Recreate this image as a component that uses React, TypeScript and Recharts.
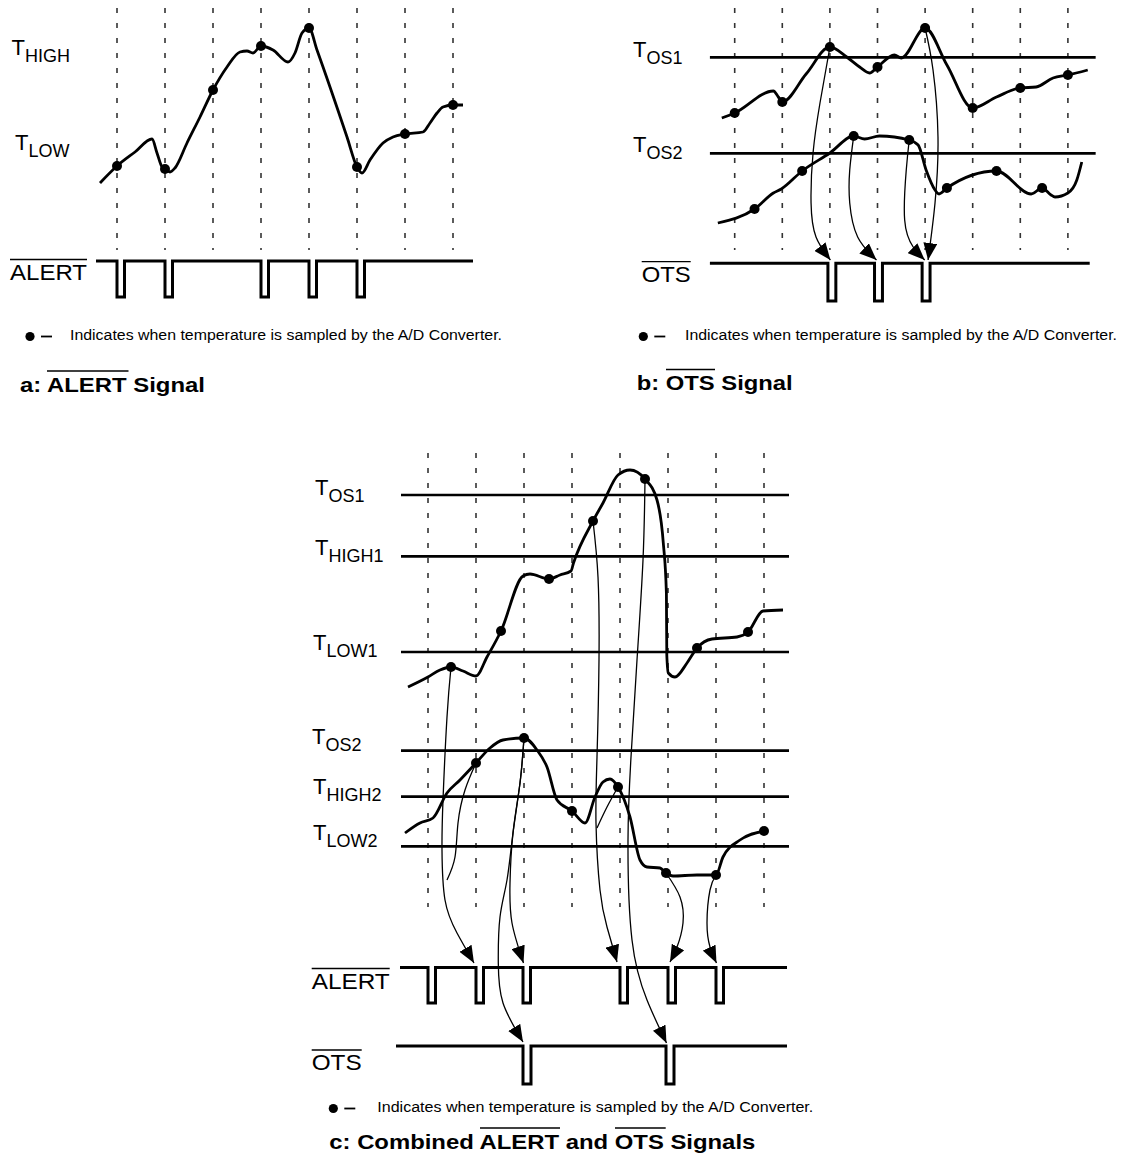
import React from "react";
import { ComposedChart, Line, Scatter, XAxis, YAxis, ReferenceLine } from "recharts";

// every point is [time, temperature, sampled?]; one A/D sample period = 48 time units
type Pt = number[];

const sampleTimes = [0, 48, 96, 144, 192, 240, 288, 336];

// ---------- a: ALERT signal ----------
const tempA: Pt[] = [
    [-17, 117], [0, 134, 1], [18, 148], [35, 161], [40, 147], [45, 133], [48, 131, 1], [53, 128], [58, 132],
    [70, 157], [83, 183], [96, 210, 1], [110, 233], [123, 248], [130, 249], [136, 247], [144, 254, 1],
    [156, 250], [171, 238], [178, 247], [185, 267], [192, 272, 1], [200, 250], [230, 163], [240, 133, 1],
    [245, 127], [253, 140], [266, 157], [276, 163], [288, 166, 1], [306, 168], [313, 177], [320, 187],
    [326, 193], [336, 195, 1], [346, 195],
];
const alertPulsesA = [0, 48, 144, 192, 240];
const alertLevelsA = [39, 3];
const alertSpanA = [-21, 356];

// ---------- b: OTS signal ----------
const tempB1: Pt[] = [
    [-13, 182], [0, 187, 1], [39, 209], [44, 203], [48, 198, 1], [72, 226], [96, 253, 1], [113, 243],
    [126, 233], [136, 227], [144, 233, 1], [161, 245], [168, 242], [192, 272, 1], [214, 235], [240, 192, 1],
    [264, 203], [288, 212, 1], [304, 213], [321, 222], [336, 225, 1], [356, 230],
];
const tempB2: Pt[] = [
    [-17, 77], [20, 91, 1], [39, 107], [47, 111], [68, 129, 1], [96, 147], [120, 164, 1], [131, 161],
    [146, 164], [176, 160, 1], [185, 155], [193, 130], [202, 110], [206, 106], [214, 112, 1], [264, 129, 1],
    [299, 106], [310, 112, 1], [319, 105], [323, 103], [336, 107], [345, 120], [350, 138],
];
const limitsB = [242.7, 146.7]; // TOS1, TOS2
const limitSpanB = [-25, 364];
const otsPulsesB = [94, 141, 189];
const otsLevelsB = [36.7, -1];
const otsSpanB = [-25, 358];
const arrowsB: Pt[][] = [
    [[96, 253], [86, 197], [79, 147], [77, 97], [82, 63], [96.5, 40]],
    [[120, 164], [116, 130], [116, 97], [124, 63], [143, 40]],
    [[176, 160], [173, 130], [171.4, 80], [180, 53], [191.6, 40]],
    [[192, 272], [200, 230], [205, 163], [202, 97], [195, 40]],
];

// ---------- c: combined ----------
const tempC1: Pt[] = [
    [-20, 413], [0, 423], [12, 430], [23, 433, 1], [35, 429], [48, 424], [59, 443], [73, 469, 1], [95, 524],
    [102, 526], [121, 521, 1], [132, 525], [143, 529], [145.5, 537], [165, 579, 1], [175, 597], [190, 625],
    [202, 630], [217, 621, 1], [229, 600], [235.3, 557], [238.4, 507], [238.8, 445], [240.3, 427], [247, 423],
    [259, 437], [269, 452, 1], [284, 461], [309, 463], [320, 468, 1], [335, 489], [355, 490],
];
const tempC2: Pt[] = [
    [-23, 267], [-8, 277], [5, 282], [19, 307], [32, 320], [48, 337, 1], [62, 352], [75, 360], [96, 362, 1],
    [109, 350], [119, 333], [129, 300], [144, 289, 1], [157, 277], [167, 303], [175, 318], [182, 321],
    [190, 313, 1], [202, 283], [212, 240], [219, 233], [232, 232], [238, 227, 1], [245, 224], [269, 225],
    [288, 225, 1], [295, 243], [312, 260], [336, 269, 1],
];
const limitsC = [605, 543.7, 448, 349.3, 303.3, 253.7]; // TOS1, THIGH1, TLOW1, TOS2, THIGH2, TLOW2
const limitSpanC = [-27, 361];
const alertPulsesC = [0, 48, 95, 192, 240, 288];
const alertLevelsC = [132.5, 97];
const alertSpanC = [-28, 359];
const otsPulsesC = [95, 238];
const otsLevelsC = [54, 16];
const otsSpanC = [-32, 359];
const arrowsC: Pt[][] = [
    [[23, 433], [19, 383], [15, 300], [14, 250], [17, 200], [29, 167], [46, 137]],
    [[96, 362], [92, 317], [85, 267], [82, 217], [84, 177], [95.5, 137]],
    [[96, 362], [92, 317], [85, 267], [79, 220], [72, 183], [70.3, 137], [75, 97], [95, 58]],
    [[165, 579], [170, 523], [171, 440], [169, 343], [168, 277], [172, 210], [179, 173], [189, 138]],
    [[217, 621], [215, 540], [209, 440], [203, 343], [200, 260], [204, 160], [219, 100], [238.5, 57]],
    [[238, 227], [252, 203], [255, 177], [249, 153], [242, 138]],
    [[288, 225], [282, 210], [279, 177], [282, 153], [288.5, 137]],
];
// thin lines that join another arrow (no head)
const feedersC: Pt[][] = [
    [[48, 337], [37, 310], [30, 277], [27, 243], [19, 220]],
    [[190, 313], [179, 293], [169, 272]],
];

const FONT = "'Liberation Sans', Arial, Helvetica, sans-serif";

const toPts = (arr: Pt[]) => arr.map(([x, y, s]) => ({ x, y, s: !!s }));

const signalPts = (pulses: number[], levels: number[], span: number[], w: number) => {
    const [hi, lo] = levels;
    const pts = [{ x: span[0], y: hi }];
    pulses.forEach(t => {
        pts.push({ x: t, y: hi }, { x: t, y: lo }, { x: t + w, y: lo }, { x: t + w, y: hi });
    });
    pts.push({ x: span[1], y: hi });
    return pts;
};

const dotShape = (p: any) => <circle cx={p.cx} cy={p.cy} r={5} fill="#000" />;

const dashed = (top: number, bottom: number, k: string) =>
    sampleTimes.map(t => (
        <ReferenceLine key={k + t} segment={[{ x: t, y: top }, { x: t, y: bottom }]}
            stroke="#333" strokeWidth={1.6} strokeDasharray="5 10" />
    ));

const limits = (ys: number[], span: number[], k: string) =>
    ys.map((y, i) => (
        <ReferenceLine key={k + i} segment={[{ x: span[0], y }, { x: span[1], y }]} stroke="#000" strokeWidth={2.7} />
    ));

const curve = (data: Pt[], k: string) => (
    <Line key={k} data={toPts(data)} dataKey="y" type="monotone" stroke="#000" strokeWidth={2.8}
        dot={false} activeDot={false} isAnimationActive={false} />
);

const samples = (data: Pt[], k: string) => (
    <Scatter key={k} data={toPts(data).filter(p => p.s)} dataKey="y" shape={dotShape} isAnimationActive={false} />
);

const arrow = (data: Pt[], k: string, head = true) => (
    <Line key={k} data={toPts(data)} dataKey="y" type="natural" stroke="#000" strokeWidth={1.3}
        dot={false} activeDot={false} isAnimationActive={false}
        markerEnd={head ? "url(#arrowHead)" : undefined} />
);

const digital = (pulses: number[], levels: number[], span: number[], w: number, k: string) => (
    <Line key={k} data={signalPts(pulses, levels, span, w)} dataKey="y" type="linear" stroke="#000"
        strokeWidth={3} strokeLinejoin="miter" dot={false} activeDot={false} isAnimationActive={false} />
);

const Panel = ({ left, top, width, height, xDomain, yDomain, children }: any) => (
    <div style={{ position: "absolute", left, top }}>
        <ComposedChart width={width} height={height} margin={{ top: 0, right: 0, bottom: 0, left: 0 }}>
            <XAxis type="number" dataKey="x" domain={xDomain} hide allowDataOverflow />
            <YAxis type="number" dataKey="y" domain={yDomain} hide allowDataOverflow />
            {children}
        </ComposedChart>
    </div>
);

const TLabel = ({ x, y, sub }: { x: number; y: number; sub: string }) => (
    <text x={x} y={y} fontSize={22}>
        T<tspan fontSize={18} dy={7}>{sub}</tspan>
    </text>
);

const BarLabel = ({ x, y, text, len }: { x: number; y: number; text: string; len: number }) => (
    <g>
        <text x={x} y={y} fontSize={21.5} textLength={len} lengthAdjust="spacingAndGlyphs">{text}</text>
        <line x1={x} x2={x + len} y1={y - 20} y2={y - 20} stroke="#000" strokeWidth={1.3} />
    </g>
);

const Note = ({ dx, y, tx, len }: { dx: number; y: number; tx: number; len: number }) => (
    <g>
        <circle cx={dx} cy={y - 3.5} r={4.6} fill="#000" />
        <line x1={dx + 11} x2={dx + 22} y1={y - 3.5} y2={y - 3.5} stroke="#000" strokeWidth={1.8} />
        <text x={tx} y={y} fontSize={15.5} textLength={len} lengthAdjust="spacingAndGlyphs">
            Indicates when temperature is sampled by the A/D Converter.
        </text>
    </g>
);

const Title = ({ x, y, text, len, bars }: { x: number; y: number; text: string; len: number; bars: number[][] }) => (
    <g>
        <text x={x} y={y} fontSize={21} fontWeight="bold" textLength={len} lengthAdjust="spacingAndGlyphs">{text}</text>
        {bars.map((b, i) => (
            <line key={i} x1={b[0]} x2={b[1]} y1={y - 20.5} y2={y - 20.5} stroke="#000" strokeWidth={1.4} />
        ))}
    </g>
);

const App: React.FC = () => (
    <div style={{ position: "absolute", left: 0, top: 0, width: 1127, height: 1165, background: "#fff" }}>
        <Panel left={0} top={0} width={480} height={320} xDomain={[-117, 363]} yDomain={[-20, 300]}>
            {dashed(292, 50, "da")}
            {curve(tempA, "ta")}
            {samples(tempA, "sa")}
            {digital(alertPulsesA, alertLevelsA, alertSpanA, 7.5, "alA")}
        </Panel>

        <Panel left={699.3} top={0} width={404.6} height={320} xDomain={[-36, 372]} yDomain={[-20, 300]}>
            {dashed(292, 50, "db")}
            {limits(limitsB, limitSpanB, "lb")}
            {curve(tempB1, "tb1")}
            {curve(tempB2, "tb2")}
            {arrowsB.map((a, i) => arrow(a, "ab" + i))}
            {samples(tempB1, "sb1")}
            {samples(tempB2, "sb2")}
            {digital(otsPulsesB, otsLevelsB, otsSpanB, 8, "otB")}
        </Panel>

        <Panel left={300} top={440} width={500} height={660} xDomain={[-128, 372]} yDomain={[0, 660]}>
            {dashed(647, 193, "dc")}
            {limits(limitsC, limitSpanC, "lc")}
            {curve(tempC1, "tc1")}
            {curve(tempC2, "tc2")}
            {arrowsC.map((a, i) => arrow(a, "ac" + i))}
            {feedersC.map((a, i) => arrow(a, "fc" + i, false))}
            {samples(tempC1, "sc1")}
            {samples(tempC2, "sc2")}
            {digital(alertPulsesC, alertLevelsC, alertSpanC, 7.5, "alC")}
            {digital(otsPulsesC, otsLevelsC, otsSpanC, 8, "otC")}
        </Panel>

        <svg width={1127} height={1165} fontFamily={FONT}
            style={{ position: "absolute", left: 0, top: 0, pointerEvents: "none" }}>
            <defs>
                <marker id="arrowHead" viewBox="0 0 17 14" refX={17} refY={7} markerWidth={17} markerHeight={14}
                    markerUnits="userSpaceOnUse" orient="auto">
                    <path d="M0,0 L17,7 L0,14 Z" fill="#000" />
                </marker>
            </defs>

            {/* a */}
            <TLabel x={11.5} y={55} sub="HIGH" />
            <TLabel x={15} y={149.5} sub="LOW" />
            <BarLabel x={10} y={279.5} text="ALERT" len={77} />
            <Note dx={30} y={340} tx={70} len={432} />
            <Title x={20} y={391.5} text="a: ALERT Signal" len={185} bars={[[47, 128.5]]} />

            {/* b */}
            <TLabel x={633} y={56.5} sub="OS1" />
            <TLabel x={633} y={151.5} sub="OS2" />
            <BarLabel x={641.7} y={281.7} text="OTS" len={49} />
            <Note dx={643.3} y={340} tx={685} len={432} />
            <Title x={636.7} y={390} text="b: OTS Signal" len={156} bars={[[666, 715]]} />

            {/* c */}
            <TLabel x={315} y={495} sub="OS1" />
            <TLabel x={315} y={555} sub="HIGH1" />
            <TLabel x={313} y={650} sub="LOW1" />
            <TLabel x={312} y={743.5} sub="OS2" />
            <TLabel x={313} y={794.3} sub="HIGH2" />
            <TLabel x={313} y={840} sub="LOW2" />
            <BarLabel x={311.7} y={988.5} text="ALERT" len={78} />
            <BarLabel x={311.7} y={1070} text="OTS" len={50} />
            <Note dx={333.3} y={1112} tx={377.3} len={436} />
            <Title x={329.3} y={1148.5} text="c: Combined ALERT and OTS Signals" len={426}
                bars={[[480, 560], [615, 665.7]]} />
        </svg>
    </div>
);

export default App;
